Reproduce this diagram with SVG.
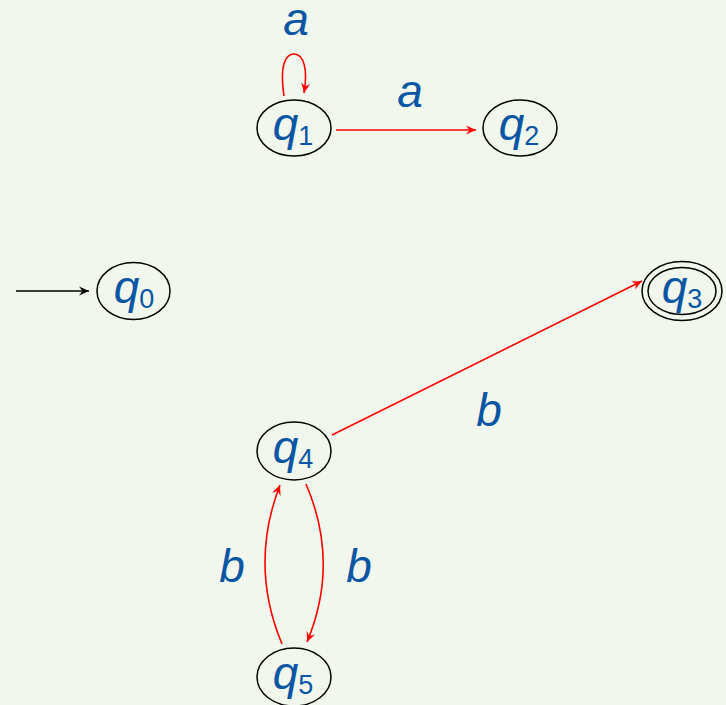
<svg xmlns="http://www.w3.org/2000/svg" width="726" height="705" viewBox="0 0 726 705">
  <defs>
    <marker id="arrow-red" viewBox="-11 -5 12 10" refX="0" refY="0" markerWidth="12" markerHeight="10" markerUnits="userSpaceOnUse" orient="auto">
      <path d="M0,0 L-10,-4.5 L-6.5,0 L-10,4.5 Z" fill="#ff0000"/>
    </marker>
    <marker id="arrow-black" viewBox="-11 -5 12 10" refX="0" refY="0" markerWidth="12" markerHeight="10" markerUnits="userSpaceOnUse" orient="auto">
      <path d="M0,0 L-10,-4.5 L-6.5,0 L-10,4.5 Z" fill="#000000"/>
    </marker>
  </defs>
  <style>
    .state { fill: none; stroke: #000; stroke-width: 1.5; }
    .edge { fill: none; stroke: #ff0000; stroke-width: 1.6; marker-end: url(#arrow-red); }
    .init { fill: none; stroke: #000; stroke-width: 1.5; marker-end: url(#arrow-black); }
    .name { font-family: "Liberation Sans", Arial, sans-serif; font-style: italic; font-size: 46px; fill: #0b56a4; text-anchor: middle; }
    .sub { font-style: normal; font-size: 27px; }
    .lbl { font-family: "Liberation Sans", Arial, sans-serif; font-style: italic; font-size: 46px; fill: #0b56a4; text-anchor: middle; }
  </style>

  <rect width="726" height="705" fill="#f1f7ec"/>

  <!-- transitions -->
  <g id="edges">
    <line class="init" x1="16" y1="291" x2="89" y2="291"/>
    <path class="edge" d="M284,96 C279,62 287,54 294,54 C304,54 308,70 304,93"/>
    <line class="edge" x1="336" y1="130" x2="476" y2="130"/>
    <line class="edge" x1="332" y1="435" x2="642" y2="281"/>
    <path class="edge" d="M306,484 Q340,563 307,642"/>
    <path class="edge" d="M282,644 Q249,565 280,485"/>
    <text class="lbl" x="296" y="35">a</text>
    <text class="lbl" x="410" y="107">a</text>
    <text class="lbl" x="489" y="426">b</text>
    <text class="lbl" x="232" y="582">b</text>
    <text class="lbl" x="359" y="582">b</text>
  </g>

  <g id="q0">
    <ellipse class="state" cx="133.5" cy="291" rx="36.5" ry="28.5"/>
    <text class="name" x="134" y="303">q<tspan class="sub" dy="5">0</tspan></text>
  </g>
  <g id="q1">
    <ellipse class="state" cx="294" cy="128" rx="37" ry="28"/>
    <text class="name" x="293" y="140">q<tspan class="sub" dy="5">1</tspan></text>
  </g>
  <g id="q2">
    <ellipse class="state" cx="520" cy="128" rx="37" ry="28"/>
    <text class="name" x="519" y="140">q<tspan class="sub" dy="5">2</tspan></text>
  </g>
  <g id="q3">
    <ellipse class="state" cx="682" cy="291" rx="40" ry="29.5"/>
    <ellipse class="state" cx="682" cy="291" rx="34" ry="23.5"/>
    <text class="name" x="682" y="303">q<tspan class="sub" dy="5">3</tspan></text>
  </g>
  <g id="q4">
    <ellipse class="state" cx="294" cy="451" rx="37" ry="29"/>
    <text class="name" x="293" y="463">q<tspan class="sub" dy="5">4</tspan></text>
  </g>
  <g id="q5">
    <ellipse class="state" cx="294" cy="677" rx="37" ry="29"/>
    <text class="name" x="293" y="689">q<tspan class="sub" dy="5">5</tspan></text>
  </g>
</svg>
